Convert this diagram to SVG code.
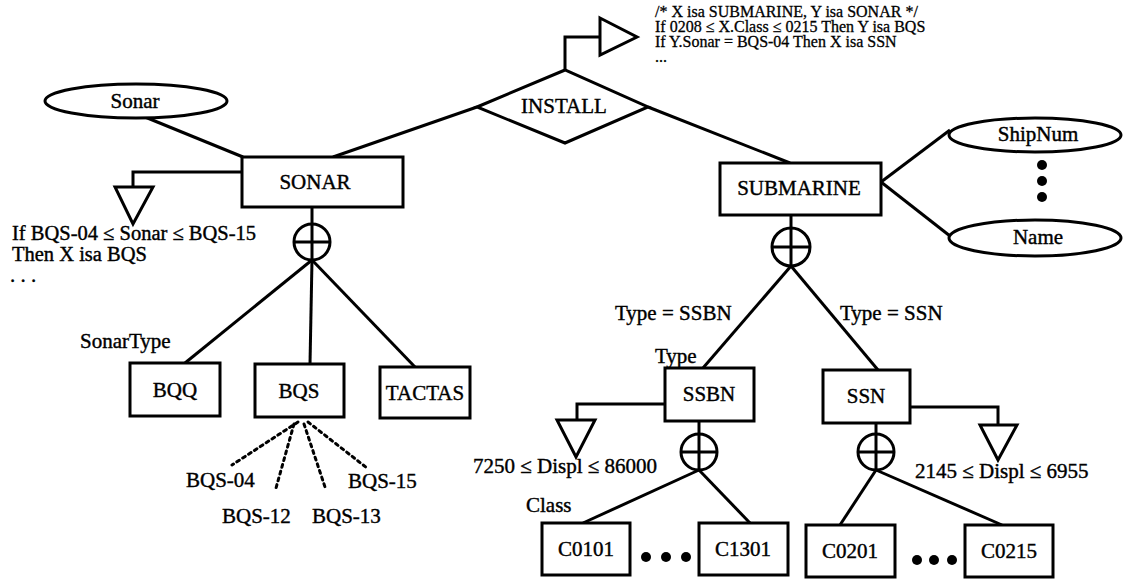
<svg xmlns="http://www.w3.org/2000/svg" width="1124" height="579" viewBox="0 0 1124 579">
<style>
text{font-family:"Liberation Serif","Times New Roman",serif;font-size:21px;fill:#000;stroke:#000;stroke-width:0.4}
.c{text-anchor:middle}
.sm{font-size:16px;stroke-width:0.3}
.md{font-size:20.5px}
.box{fill:#fff;stroke:#000;stroke-width:3}
.ln{fill:none;stroke:#000;stroke-width:3}
.dot{fill:none;stroke:#000;stroke-width:3;stroke-dasharray:3 4;stroke-linecap:round}
</style>
<rect width="1124" height="579" fill="#fff"/>
<g id="connectors">
<line class="ln" x1="145" y1="117" x2="243" y2="157"/>
<line class="ln" x1="477" y1="107" x2="333" y2="157"/>
<line class="ln" x1="648" y1="107" x2="790" y2="163"/>
<polyline class="ln" points="565,70 565,37 600,37"/>
<polyline class="ln" points="242,172 133,172 133,187"/>
<line class="ln" x1="312" y1="207" x2="312" y2="224"/>
<line class="ln" x1="312" y1="260" x2="185" y2="363"/>
<line class="ln" x1="312" y1="260" x2="310" y2="364"/>
<line class="ln" x1="312" y1="260" x2="415" y2="367"/>
<line class="dot" x1="298" y1="422" x2="232" y2="465"/>
<line class="dot" x1="294" y1="424" x2="276" y2="488"/>
<line class="dot" x1="304" y1="424" x2="325" y2="487"/>
<line class="dot" x1="308" y1="422" x2="367" y2="468"/>
<line class="ln" x1="881" y1="182" x2="950" y2="130"/>
<line class="ln" x1="881" y1="182" x2="950" y2="236"/>
<line class="ln" x1="791" y1="215" x2="791" y2="228"/>
<line class="ln" x1="791" y1="266" x2="703" y2="368"/>
<line class="ln" x1="791" y1="266" x2="878" y2="370"/>
<polyline class="ln" points="665,404 577,404 577,420"/>
<line class="ln" x1="699" y1="421" x2="699" y2="434"/>
<line class="ln" x1="699" y1="470" x2="583" y2="523"/>
<line class="ln" x1="699" y1="470" x2="750" y2="523"/>
<polyline class="ln" points="910,407 998,407 998,425"/>
<line class="ln" x1="876" y1="423" x2="876" y2="434"/>
<line class="ln" x1="876" y1="470" x2="840" y2="525"/>
<line class="ln" x1="876" y1="470" x2="1002" y2="525"/>
</g>
<g id="install">
<polygon class="box" points="477,107 565,70 648,107 565,143"/>
<text class="c" x="564" y="113">INSTALL</text>
</g>
<g id="install-rule">
<polygon class="box" points="600,18 637,37 600,55"/>
<text class="sm" x="655" y="17">/* X isa SUBMARINE, Y isa SONAR */</text>
<text class="sm" x="655" y="32">If 0208 ≤ X.Class ≤ 0215 Then Y isa BQS</text>
<text class="sm" x="655" y="47">If Y.Sonar = BQS-04 Then X isa SSN</text>
<text class="sm" x="655" y="62">...</text>
</g>
<g id="sonar-attr">
<ellipse class="box" cx="136" cy="101" rx="91" ry="17"/>
<text class="c" x="135" y="108">Sonar</text>
</g>
<g id="sonar">
<rect class="box" x="242" y="157" width="161" height="50"/>
<text class="c" x="315" y="189">SONAR</text>
</g>
<g id="sonar-rule">
<polygon class="box" points="115,187 153,187 133,224"/>
<text class="md" x="12" y="240">If BQS-04 ≤ Sonar ≤ BQS-15</text>
<text class="md" x="12" y="261">Then X isa BQS</text>
<text x="10" y="282">. . .</text>
</g>
<g id="sonar-disjoint">
<circle class="box" cx="312" cy="242" r="18"/>
<line class="ln" x1="294" y1="242" x2="330" y2="242"/>
<line class="ln" x1="312" y1="224" x2="312" y2="260"/>
</g>
<text x="80" y="348">SonarType</text>
<g id="bqq">
<rect class="box" x="130" y="363" width="90" height="53"/>
<text class="c" x="175" y="397">BQQ</text>
</g>
<g id="bqs">
<rect class="box" x="255" y="364" width="89" height="53"/>
<text class="c" x="299" y="398">BQS</text>
</g>
<g id="tactas">
<rect class="box" x="380" y="367" width="90" height="51"/>
<text class="c" x="425" y="400">TACTAS</text>
</g>
<g id="bqs-values">
<text x="186" y="487">BQS-04</text>
<text x="348" y="488">BQS-15</text>
<text x="222" y="523">BQS-12</text>
<text x="312" y="523">BQS-13</text>
</g>
<g id="submarine">
<rect class="box" x="720" y="163" width="161" height="52"/>
<text class="c" x="799" y="195">SUBMARINE</text>
</g>
<g id="shipnum">
<ellipse class="box" cx="1035" cy="135" rx="86" ry="17"/>
<text class="c" x="1038" y="141">ShipNum</text>
</g>
<g id="attr-dots">
<circle cx="1042" cy="165" r="5"/>
<circle cx="1042" cy="181" r="5"/>
<circle cx="1042" cy="197" r="5"/>
</g>
<g id="name">
<ellipse class="box" cx="1035" cy="238" rx="86" ry="18"/>
<text class="c" x="1038" y="244">Name</text>
</g>
<g id="sub-disjoint">
<circle class="box" cx="791" cy="247" r="19"/>
<line class="ln" x1="772" y1="247" x2="810" y2="247"/>
<line class="ln" x1="791" y1="228" x2="791" y2="266"/>
</g>
<text x="615" y="320">Type = SSBN</text>
<text x="840" y="320">Type = SSN</text>
<text x="655" y="363">Type</text>
<g id="ssbn">
<rect class="box" x="665" y="368" width="89" height="53"/>
<text class="c" x="709" y="401">SSBN</text>
</g>
<g id="ssbn-rule">
<polygon class="box" points="557,420 595,420 576,457"/>
<text x="473" y="473">7250 ≤ Displ ≤ 86000</text>
</g>
<g id="ssbn-disjoint">
<circle class="box" cx="699" cy="452" r="18"/>
<line class="ln" x1="681" y1="452" x2="717" y2="452"/>
<line class="ln" x1="699" y1="434" x2="699" y2="470"/>
</g>
<g id="ssn">
<rect class="box" x="823" y="370" width="87" height="53"/>
<text class="c" x="866" y="403">SSN</text>
</g>
<g id="ssn-rule">
<polygon class="box" points="980,425 1017,425 998,460"/>
<text x="915" y="478">2145 ≤ Displ ≤ 6955</text>
</g>
<g id="ssn-disjoint">
<circle class="box" cx="876" cy="452" r="18"/>
<line class="ln" x1="858" y1="452" x2="894" y2="452"/>
<line class="ln" x1="876" y1="434" x2="876" y2="470"/>
</g>
<text x="526" y="512">Class</text>
<g id="c0101">
<rect class="box" x="542" y="523" width="88" height="52"/>
<text class="c" x="586" y="556">C0101</text>
</g>
<g id="ssbn-dots">
<circle cx="646" cy="557" r="5"/>
<circle cx="666" cy="557" r="5"/>
<circle cx="686" cy="557" r="5"/>
</g>
<g id="c1301">
<rect class="box" x="699" y="523" width="89" height="52"/>
<text class="c" x="743" y="556">C1301</text>
</g>
<g id="c0201">
<rect class="box" x="806" y="525" width="89" height="52"/>
<text class="c" x="850" y="558">C0201</text>
</g>
<g id="ssn-dots">
<circle cx="917" cy="560" r="5"/>
<circle cx="934" cy="560" r="5"/>
<circle cx="952" cy="560" r="5"/>
</g>
<g id="c0215">
<rect class="box" x="965" y="525" width="88" height="52"/>
<text class="c" x="1009" y="558">C0215</text>
</g>
</svg>
